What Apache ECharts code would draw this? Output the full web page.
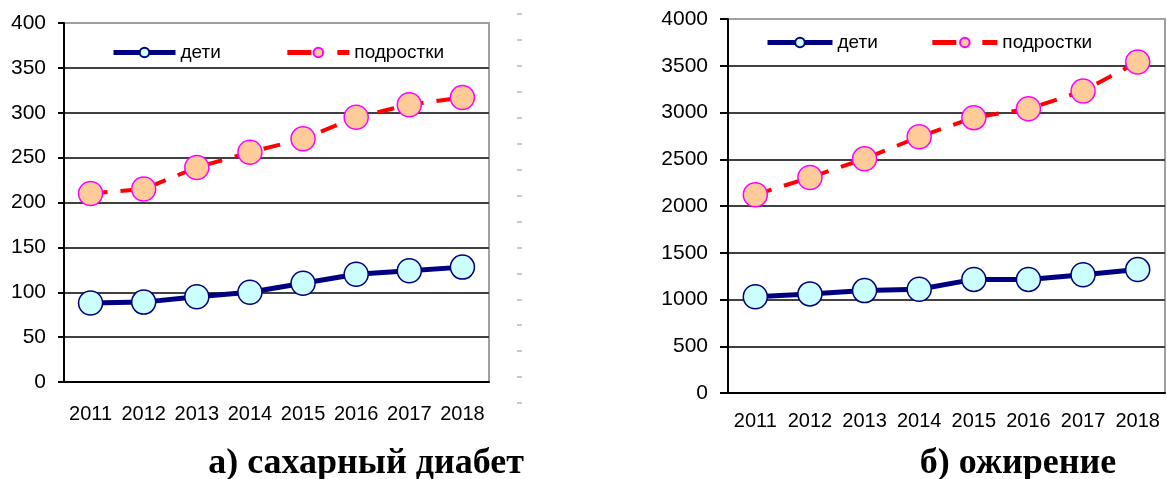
<!DOCTYPE html>
<html>
<head>
<meta charset="utf-8">
<script src="https://cdn.jsdelivr.net/npm/echarts@6/dist/echarts.min.js"></script>
<style>
  html, body { margin: 0; padding: 0; background: #fff; }
  #chart { width: 1167px; height: 479px; }
</style>
</head>
<body>
<div id="chart"></div>
<script>
// years on the category axis
var years = ['2011', '2012', '2013', '2014', '2015', '2016', '2017', '2018'];

// a) diabetes
var diabetesKids  = [88, 89, 95, 100, 110, 120, 124, 128];
var diabetesTeens = [210, 215, 239, 256, 271, 295, 309, 317];

// b) obesity
var obesityKids  = [1030, 1060, 1095, 1110, 1215, 1215, 1265, 1320];
var obesityTeens = [2120, 2305, 2505, 2740, 2945, 3040, 3230, 3540];

var kidsName = 'дети';
var teensName = 'подростки';
var titles = ['а) сахарный диабет', 'б) ожирение'];

var dom_chart = document.getElementById('chart');
var chart = echarts.init(dom_chart);

var sans = 'Arial, "Liberation Sans", sans-serif';

function splitColors(n) {
    var c = [];
    for (var i = 0; i < n; i++) c.push(i === n - 1 ? '#a0a0a0' : '#404040');
    return c;
}

function plain(v) { return String(v); }

function kidsSeries(idx, data) {
    return {
        name: kidsName, type: 'line', xAxisIndex: idx, yAxisIndex: idx,
        data: data, symbol: 'circle', symbolSize: 24, z: 3,
        lineStyle: {color: '#000080', width: 5},
        itemStyle: {color: '#ccffff', borderColor: '#000080', borderWidth: 1.5},
        emphasis: {disabled: true}
    };
}

function teensSeries(idx, data) {
    return {
        name: teensName, type: 'line', xAxisIndex: idx, yAxisIndex: idx,
        data: data, symbol: 'circle', symbolSize: 24, z: 3,
        lineStyle: {color: '#ff0000', width: 4, type: [17, 13]},
        itemStyle: {color: '#ffcc99', borderColor: '#ff00ff', borderWidth: 1.5},
        emphasis: {disabled: true}
    };
}

var legendData = [
    {name: kidsName, lineStyle: {width: 5}},
    {name: teensName, lineStyle: {width: 5, type: [24, 26]}}
];

option = {
    animation: false,
    backgroundColor: '#ffffff',
    title: [
        {text: titles[0], left: 361, top: 441, textAlign: 'center',
         textStyle: {fontFamily: '"Times New Roman", "Liberation Serif", serif', fontWeight: 'bold', fontSize: 36, color: '#000'}},
        {text: titles[1], left: 1013, top: 441, textAlign: 'center',
         textStyle: {fontFamily: '"Times New Roman", "Liberation Serif", serif', fontWeight: 'bold', fontSize: 36, color: '#000'}}
    ],
    legend: [
        {left: 106, top: 38, itemWidth: 62, itemHeight: 12, itemGap: 64, data: legendData,
         textStyle: {fontFamily: sans, fontSize: 19, color: '#000'}, selectedMode: false},
        {left: 760, top: 28, itemWidth: 65, itemHeight: 12, itemGap: 52, data: legendData,
         textStyle: {fontFamily: sans, fontSize: 19, color: '#000'}, selectedMode: false}
    ],
    grid: [
        {left: 64, top: 23, width: 425, height: 359, show: true, borderColor: '#a0a0a0', borderWidth: 2},
        {left: 728, top: 19, width: 437, height: 374, show: true, borderColor: '#a0a0a0', borderWidth: 2},
        {left: 517, top: 14, width: 1, height: 389}
    ],
    xAxis: [
        {type: 'category', gridIndex: 0, data: years,
         axisLine: {lineStyle: {color: '#000', width: 2}},
         axisTick: {length: 7, lineStyle: {color: '#000', width: 2}},
         axisLabel: {interval: 0, margin: 22, fontFamily: sans, fontSize: 20, color: '#000'}},
        {type: 'category', gridIndex: 1, data: years,
         axisLine: {lineStyle: {color: '#000', width: 2}},
         axisTick: {length: 7, lineStyle: {color: '#000', width: 2}},
         axisLabel: {interval: 0, margin: 18, fontFamily: sans, fontSize: 20, color: '#000'}},
        {type: 'value', gridIndex: 2, show: false}
    ],
    yAxis: [
        {type: 'value', gridIndex: 0, min: 0, max: 400, interval: 50,
         axisLine: {show: true, lineStyle: {color: '#000', width: 2}},
         axisTick: {show: true, length: 6, lineStyle: {color: '#000', width: 2}},
         axisLabel: {margin: 18, fontFamily: sans, fontSize: 21, color: '#000', formatter: plain},
         splitLine: {lineStyle: {color: splitColors(9), width: 2}}},
        {type: 'value', gridIndex: 1, min: 0, max: 4000, interval: 500,
         axisLine: {show: true, lineStyle: {color: '#000', width: 2}},
         axisTick: {show: true, length: 8, lineStyle: {color: '#000', width: 2}},
         axisLabel: {margin: 20, fontFamily: sans, fontSize: 21, color: '#000', formatter: plain},
         splitLine: {lineStyle: {color: splitColors(9), width: 2}}},
        // stray tick column to the right of chart a)
        {type: 'value', gridIndex: 2, min: 0, max: 15, interval: 1,
         axisLine: {show: false},
         axisTick: {show: true, inside: true, length: 5, lineStyle: {color: '#b8b8b8', width: 1.5}},
         axisLabel: {show: false}, splitLine: {show: false}}
    ],
    series: [
        kidsSeries(0, diabetesKids),
        teensSeries(0, diabetesTeens),
        kidsSeries(1, obesityKids),
        teensSeries(1, obesityTeens)
    ]
};

if (option && typeof option === "object") {
    chart.setOption(option, true);
}
</script>
</body>
</html>
